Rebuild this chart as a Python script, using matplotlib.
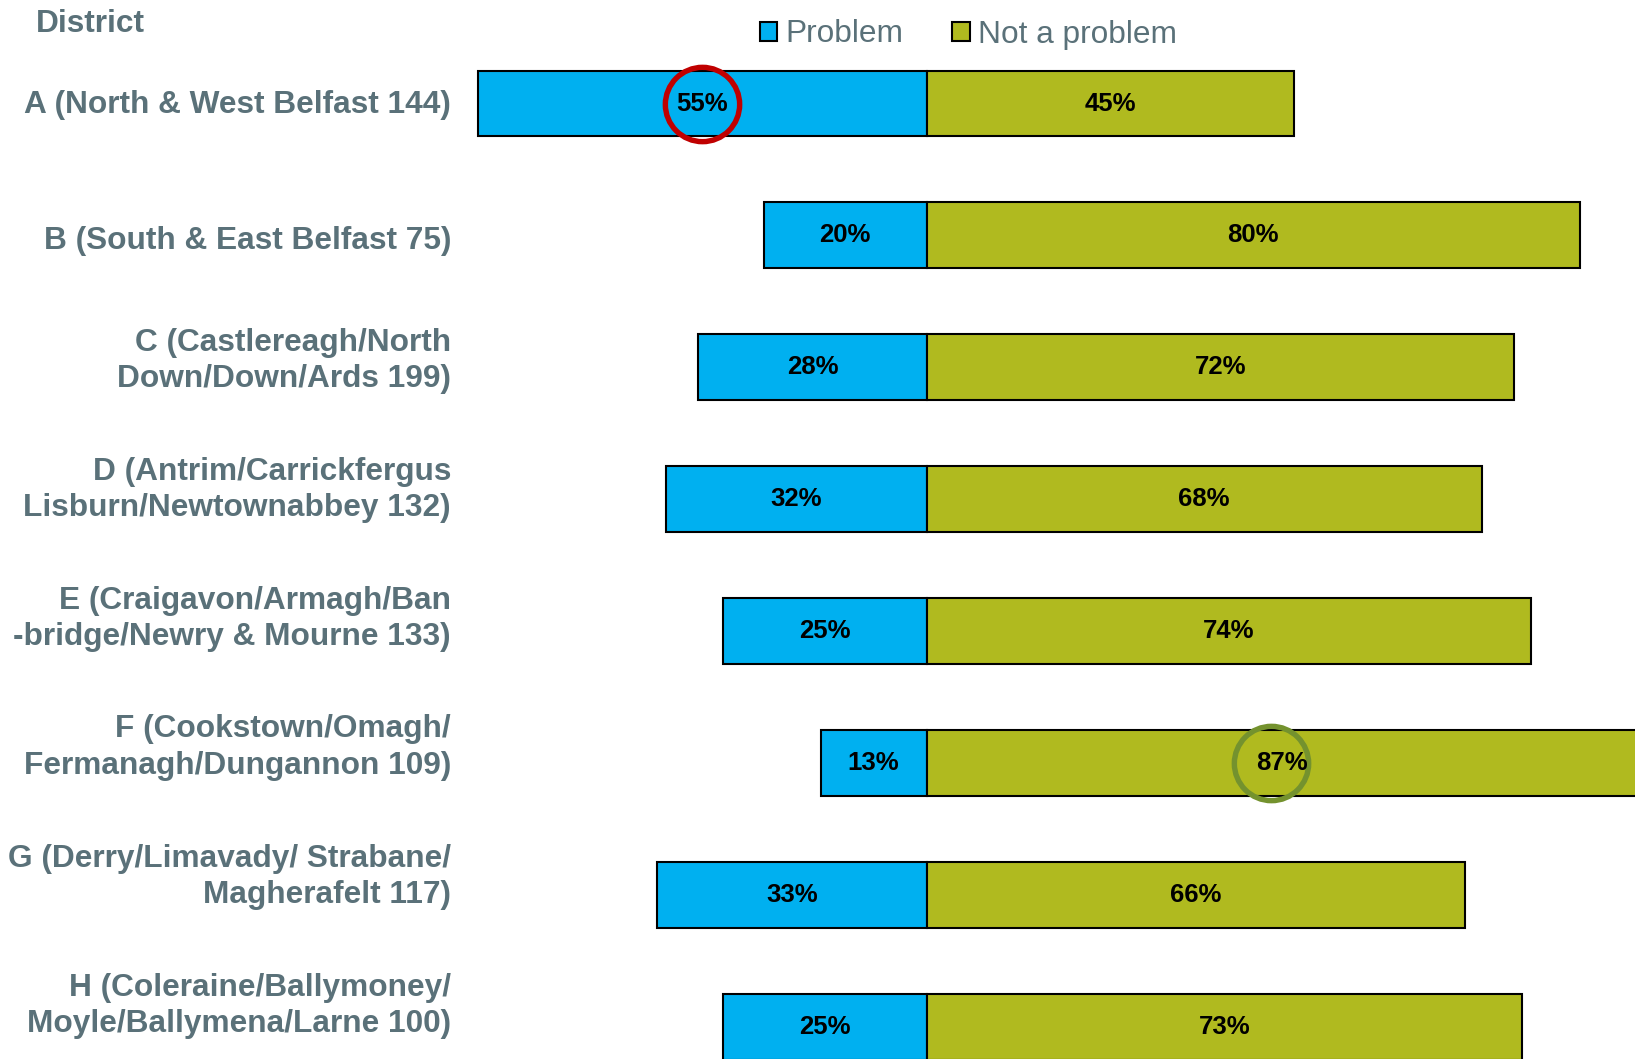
import matplotlib
matplotlib.use("Agg")
import matplotlib.pyplot as plt
import numpy as np

districts = [
    "A (North & West Belfast 144)",
    "B (South & East Belfast 75)",
    "C (Castlereagh/North\nDown/Down/Ards 199)",
    "D (Antrim/Carrickfergus\nLisburn/Newtownabbey 132)",
    "E (Craigavon/Armagh/Ban\n-bridge/Newry & Mourne 133)",
    "F (Cookstown/Omagh/\nFermanagh/Dungannon 109)",
    "G (Derry/Limavady/ Strabane/\nMagherafelt 117)",
    "H (Coleraine/Ballymoney/\nMoyle/Ballymena/Larne 100)",
]
problem = [55, 20, 28, 32, 25, 13, 33, 25]
not_problem = [45, 80, 72, 68, 74, 87, 66, 73]
series_names = ["Problem", "Not a problem"]

# layout: vertical offset of each category label from its bar (in bar units)
label_offset = [-0.012, 0.018, -0.098, -0.118, -0.142, -0.166, -0.186, -0.205]

BLUE = "#00B0F0"
OLIVE = "#B0BA1F"
GREY = "#5A7179"
FONT = ["Liberation Sans", "Arial", "DejaVu Sans"]

plt.rcParams["font.family"] = FONT

W, H = 1635, 1059
fig = plt.figure(figsize=(W / 100, H / 100), dpi=100)
ax_left = 466 / W
ax = fig.add_axes([ax_left, 0, 1 - ax_left, 1])

y = np.arange(len(districts))
prob = np.array(problem)
notp = np.array(not_problem)

b1 = ax.barh(y, -prob, height=0.5, color=BLUE, edgecolor="black", linewidth=1.5,
             label=series_names[0])
b2 = ax.barh(y, notp, height=0.5, color=OLIVE, edgecolor="black", linewidth=1.5,
             label=series_names[1])

for i in range(len(y)):
    ax.text(-prob[i] / 2, y[i], f"{prob[i]}%", ha="center", va="center",
            fontsize=18.5, fontweight="bold", color="black")
    ax.text(notp[i] / 2, y[i], f"{notp[i]}%", ha="center", va="center",
            fontsize=18.5, fontweight="bold", color="black")

# highlight circles
ax.plot([-prob[0] / 2], [y[0]], "o", ms=53.5, mfc="none", mec="#C00000", mew=3.9)
ax.plot([notp[5] / 2 - 1.3], [y[5]], "o", ms=53.5, mfc="none", mec="#74922E", mew=3.9)

x_per_px = 1 / 8.16
ax.set_xlim(-(926.7 - 466) * x_per_px, (W - 926.7) * x_per_px)
ax.set_ylim(7.246, -0.785)

label_pos = y + np.array(label_offset)
ax.set_yticks(label_pos)
ax.set_yticklabels(districts, fontsize=22.8, fontweight="bold", color=GREY,
                   linespacing=1.28)
ax.tick_params(axis="y", length=0, pad=10.8)
ax.set_xticks([])
for s in ax.spines.values():
    s.set_visible(False)

fig.text(36 / W, 1 - 31.5 / H, "District", fontsize=22.8, fontweight="bold",
         color=GREY, ha="left", va="baseline")

leg = fig.legend(handles=[b1, b2], labels=series_names, loc="center left",
                 bbox_to_anchor=(760 / W, 1 - 34.5 / H), ncol=2, frameon=False,
                 fontsize=22.8, handlelength=0.55, handleheight=0.55,
                 handletextpad=0.25, columnspacing=1.55, borderpad=0,
                 borderaxespad=0, labelcolor=GREY)

fig.savefig("out.png", dpi=100)
